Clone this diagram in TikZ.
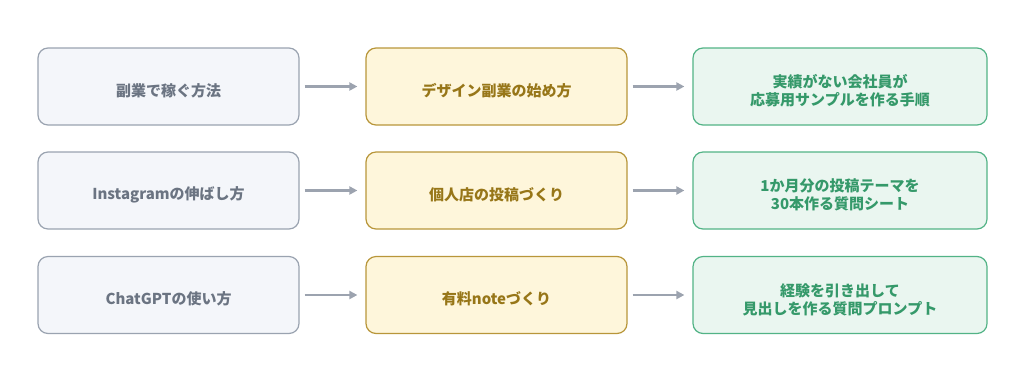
\documentclass[tikz,border=0pt]{standalone}
\usepackage{fontspec}
\setmainfont{Noto Sans CJK JP}
\usetikzlibrary{arrows.meta}
\definecolor{grayfill}{HTML}{F4F6FA}
\definecolor{grayline}{HTML}{9AA3B0}
\definecolor{graytext}{HTML}{6B7482}
\definecolor{goldfill}{HTML}{FEF6DB}
\definecolor{goldline}{HTML}{B8963A}
\definecolor{goldtext}{HTML}{977618}
\definecolor{greenfill}{HTML}{EAF6F0}
\definecolor{greenline}{HTML}{52B386}
\definecolor{greentext}{HTML}{35996A}
\definecolor{arrowgray}{HTML}{9CA3AF}
\tikzset{
  box/.style={draw, rounded corners=10pt, line width=1.2pt, align=center,
    minimum height=77pt, inner sep=0pt, font=\fontsize{15}{18}\selectfont\bfseries},
  topicbox/.style={box, fill=grayfill, draw=grayline, text=graytext, minimum width=261pt,
    execute at begin node={\rule{0pt}{21pt}}},
  themebox/.style={box, fill=goldfill, draw=goldline, text=goldtext, minimum width=261pt,
    execute at begin node={\rule{0pt}{21pt}}},
  outputbox/.style={box, fill=greenfill, draw=greenline, text=greentext, minimum width=294pt,
    execute at begin node={\rule{0pt}{40pt}}},
  flow/.style={draw=arrowgray, line width=2.6pt, -{Triangle[length=8pt,width=8pt]},
    shorten <=5pt, shorten >=8pt}
}
\begin{document}
\begin{tikzpicture}[x=1pt,y=-1pt]
\useasboundingbox (0,0) rectangle (1024,384);
\node[topicbox] (a1) at (168.5,86.5) {副業で稼ぐ方法};
\node[themebox] (b1) at (496.5,86.5) {デザイン副業の始め方};
\node[outputbox] (c1) at (840,86.5) {実績がない会社員が\\応募用サンプルを作る手順};
\node[topicbox] (a2) at (168.5,190.5) {Instagramの伸ばし方};
\node[themebox] (b2) at (496.5,190.5) {個人店の投稿づくり};
\node[outputbox] (c2) at (840,190.5) {1か月分の投稿テーマを\\30本作る質問シート};
\node[topicbox] (a3) at (168.5,295) {ChatGPTの使い方};
\node[themebox] (b3) at (496.5,295) {有料noteづくり};
\node[outputbox] (c3) at (840,295) {経験を引き出して\\見出しを作る質問プロンプト};
\draw[flow] (a1) -- (b1);
\draw[flow] (b1) -- (c1);
\draw[flow] (a2) -- (b2);
\draw[flow] (b2) -- (c2);
\draw[flow] (a3) -- (b3);
\draw[flow] (b3) -- (c3);
\end{tikzpicture}
\end{document}
